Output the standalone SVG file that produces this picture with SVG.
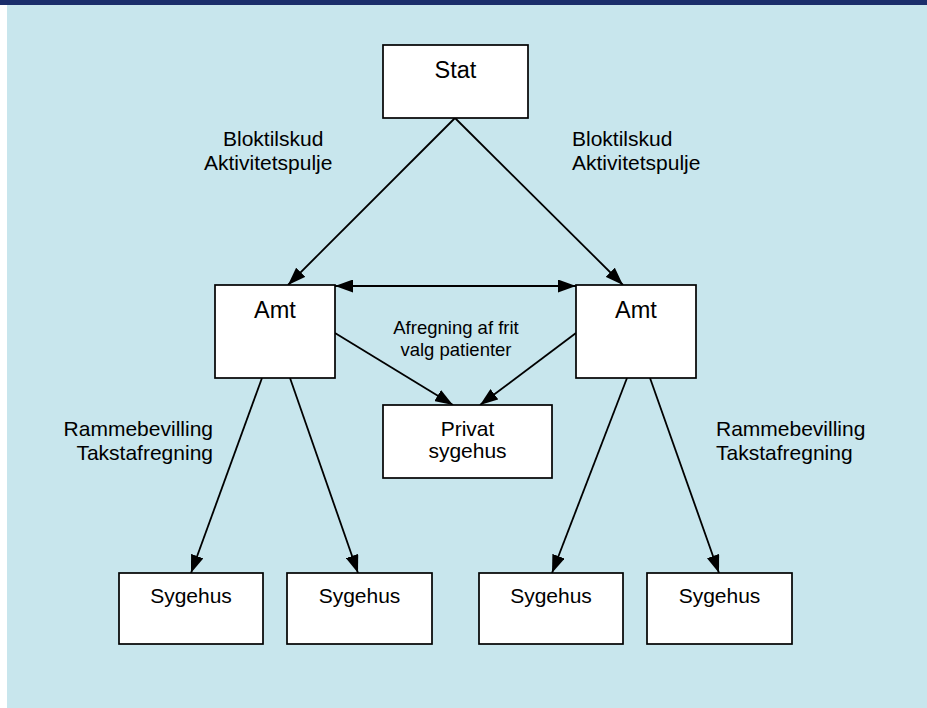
<svg xmlns="http://www.w3.org/2000/svg" width="927" height="708" viewBox="0 0 927 708">
<defs>
<style>
.box{fill:#fff;stroke:#000;stroke-width:1.7}
.t{font-family:"Liberation Sans",Arial,sans-serif;fill:#000}
.big{font-size:23.5px;text-anchor:middle}
.mid{font-size:21px;text-anchor:middle}
.lab{font-size:21px}
.sm{font-size:18.5px;text-anchor:middle}
.c{stroke:#000;stroke-width:1.8;fill:none}
</style>
<marker id="ah" viewBox="0 0 18 13" refX="18" refY="6.5" markerWidth="18" markerHeight="13" markerUnits="userSpaceOnUse" orient="auto-start-reverse">
<path d="M0,0 L18,6.5 L0,13 Z" fill="#000"/>
</marker>
</defs>
<rect x="0" y="0" width="927" height="708" fill="#fff"/>
<rect x="7" y="0" width="920" height="708" fill="#C8E6ED"/>
<rect x="0" y="0" width="927" height="5" fill="#1B2E6B"/>

<g id="connectors">
<line class="c" x1="455" y1="118" x2="288" y2="285" marker-end="url(#ah)"/>
<line class="c" x1="455" y1="118" x2="623" y2="285" marker-end="url(#ah)"/>
<line class="c" x1="335" y1="286" x2="576" y2="286" marker-start="url(#ah)" marker-end="url(#ah)"/>
<line class="c" x1="335" y1="333" x2="453" y2="405" marker-end="url(#ah)"/>
<line class="c" x1="576" y1="333" x2="480" y2="405" marker-end="url(#ah)"/>
<line class="c" x1="262" y1="378" x2="191" y2="573" marker-end="url(#ah)"/>
<line class="c" x1="290" y1="378" x2="358" y2="573" marker-end="url(#ah)"/>
<line class="c" x1="627" y1="378" x2="552" y2="573" marker-end="url(#ah)"/>
<line class="c" x1="650" y1="378" x2="719" y2="573" marker-end="url(#ah)"/>
</g>

<g id="labels">
<text class="t lab" x="223" y="146">Bloktilskud</text>
<text class="t lab" x="204" y="170">Aktivitetspulje</text>
<text class="t lab" x="572" y="146">Bloktilskud</text>
<text class="t lab" x="572" y="170">Aktivitetspulje</text>
<text class="t lab" x="213" y="436" text-anchor="end">Rammebevilling</text>
<text class="t lab" x="213" y="460" text-anchor="end">Takstafregning</text>
<text class="t lab" x="716" y="436">Rammebevilling</text>
<text class="t lab" x="716" y="460">Takstafregning</text>
<text class="t sm" x="456" y="334">Afregning af frit</text>
<text class="t sm" x="456" y="356">valg patienter</text>
</g>

<g id="stat">
<rect class="box" x="383" y="45" width="145" height="73"/>
<text class="t big" x="455.5" y="78">Stat</text>
</g>
<g id="amt1">
<rect class="box" x="215" y="285" width="120" height="93"/>
<text class="t big" x="275" y="318">Amt</text>
</g>
<g id="amt2">
<rect class="box" x="576" y="285" width="120" height="93"/>
<text class="t big" x="636" y="318">Amt</text>
</g>
<g id="privat">
<rect class="box" x="383" y="405" width="169" height="73"/>
<text class="t mid" x="467.5" y="436">Privat</text>
<text class="t mid" x="467.5" y="458">sygehus</text>
</g>
<g id="syg1">
<rect class="box" x="119" y="573" width="144" height="71"/>
<text class="t mid" x="191" y="603">Sygehus</text>
</g>
<g id="syg2">
<rect class="box" x="287" y="573" width="145" height="71"/>
<text class="t mid" x="359.5" y="603">Sygehus</text>
</g>
<g id="syg3">
<rect class="box" x="479" y="573" width="144" height="71"/>
<text class="t mid" x="551" y="603">Sygehus</text>
</g>
<g id="syg4">
<rect class="box" x="647" y="573" width="145" height="71"/>
<text class="t mid" x="719.5" y="603">Sygehus</text>
</g>
</svg>
